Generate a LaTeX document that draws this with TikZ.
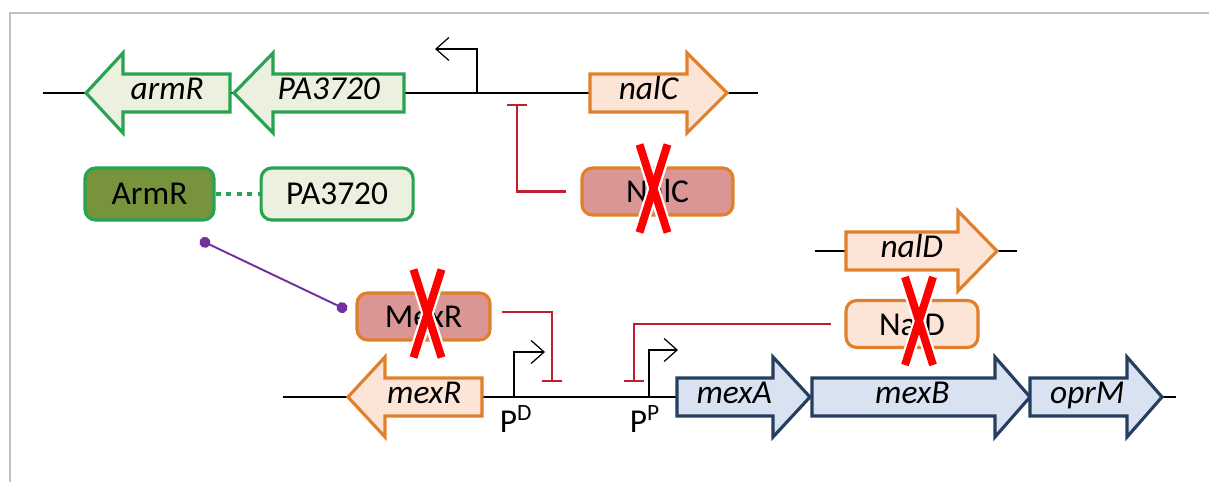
\documentclass[tikz,border=0pt]{standalone}
\usepackage{fontspec}
\setmainfont{Carlito}
\usetikzlibrary{arrows.meta, positioning, calc}
\definecolor{gngreen}{HTML}{27A352}
\definecolor{gnlight}{HTML}{EBF1DE}
\definecolor{gnolive}{HTML}{77933C}
\definecolor{gnorange}{HTML}{E07F2C}
\definecolor{gnpeach}{HTML}{FCE4D6}
\definecolor{gnpink}{HTML}{D99694}
\definecolor{gnnavy}{HTML}{243F60}
\definecolor{gnblue}{HTML}{D9E2F0}
\definecolor{gnred}{HTML}{BE1E2D}
\definecolor{gnpurple}{HTML}{7030A0}

% gene arrow: name, style, tail x, head base x, tip x, y, label
\newcommand{\gene}[7]{%
  \draw[#2] (#3,#6-19) -- (#4,#6-19) -- (#4,#6-40) -- (#5,#6)
    -- (#4,#6+40) -- (#4,#6+19) -- (#3,#6+19) -- cycle;
  \node[genetext] (#1) at ({((#5+#4)/2+#3)/2},#6) {#7};
}
% red cross over a protein that is knocked out
\newcommand{\knockout}[2]{%
  \draw[xhalo] ($(#1.center)+(#2-14,-47)$) -- ($(#1.center)+(#2+14,41)$);
  \draw[xhalo] ($(#1.center)+(#2+14,-47)$) -- ($(#1.center)+(#2-14,41)$);
  \draw[xmark] ($(#1.center)+(#2-14,-47)$) -- ($(#1.center)+(#2+14,41)$);
  \draw[xmark] ($(#1.center)+(#2+14,-47)$) -- ($(#1.center)+(#2-14,41)$);
}

\begin{document}
\begin{tikzpicture}[x=0.02cm, y=-0.02cm,
  frame/.style={draw=black!25, line width=1pt},
  dna/.style={black, line width=1.2pt},
  genegreen/.style={draw=gngreen, fill=gnlight, line width=1.8pt, line join=miter},
  geneorange/.style={draw=gnorange, fill=gnpeach, line width=1.8pt, line join=miter},
  geneblue/.style={draw=gnnavy, fill=gnblue, line width=1.8pt, line join=miter},
  genetext/.style={font=\fontsize{19}{21}\selectfont\itshape, inner sep=0pt,
    text height=1.5ex, text depth=0pt},
  prot/.style={rectangle, rounded corners=6pt, line width=1.8pt, inner sep=0pt,
    minimum height=0.94cm, font=\fontsize{19}{21}\selectfont},
  prom/.style={black, line width=0.7pt, -{Straight Barb[length=2.6mm, width=4.6mm]}},
  repress/.style={gnred, line width=1.2pt, -{Bar[width=4mm]}},
  link/.style={gngreen, line width=2.4pt, dash pattern=on 3pt off 3pt},
  bind/.style={gnpurple, line width=1.1pt, {Circle[length=2.2mm]}-{Circle[length=2.2mm]}},
  xhalo/.style={white, line width=7pt},
  xmark/.style={red, line width=4.5pt},
  plabel/.style={font=\fontsize{19}{21}\selectfont, inner sep=0pt, anchor=base},
]
  \useasboundingbox (0,0) rectangle (1209,482);
  \draw[frame] (10,482) -- (10,13) -- (1209,13);

  % DNA backbones
  \coordinate (topL) at (43,93);
  \coordinate (topR) at (758,93);
  \coordinate (botL) at (283,397);
  \coordinate (botR) at (1176,397);
  \coordinate (ndL) at (815,251);
  \coordinate (ndR) at (1017,251);
  \draw[dna] (topL) -- (topR);
  \draw[dna] (botL) -- (botR);
  \draw[dna] (ndL) -- (ndR);

  % genes
  \gene{armRg}{genegreen}{230}{123}{86}{93}{armR}
  \gene{pa3720g}{genegreen}{404}{273}{234}{93}{PA3720}
  \gene{nalCg}{geneorange}{590}{687}{727}{93}{nalC}
  \gene{nalDg}{geneorange}{846}{958}{997}{251}{nalD}
  \gene{mexRg}{geneorange}{482}{385}{348}{397}{mexR}
  \gene{mexAg}{geneblue}{677}{773}{810}{397}{mexA}
  \gene{mexBg}{geneblue}{812}{995}{1030}{397}{mexB}
  \gene{oprMg}{geneblue}{1030}{1127}{1162}{397}{oprM}

  % promoters
  \coordinate (prNalC) at (477,93);
  \coordinate (prNalCend) at (435,49);
  \coordinate (prD) at (514,397);
  \coordinate (prDend) at (545,352);
  \coordinate (prP) at (649,397);
  \coordinate (prPend) at (678,350);
  \draw[prom] (prNalC) |- (prNalCend);
  \draw[prom] (prD) |- (prDend);
  \draw[prom] (prP) |- (prPend);
  \node[plabel] (pD) at (516,432) {P\textsuperscript{D}};
  \node[plabel] (pP) at (645,432) {P\textsuperscript{P}};

  % proteins
  \node[prot, draw=gngreen, fill=gnolive, minimum width=2.58cm, minimum height=1.04cm]
    (armRp) at (149.5,194) {ArmR};
  \node[prot, draw=gngreen, fill=gnlight, minimum width=3.04cm, minimum height=1.04cm,
    right=0.88cm of armRp] (pa3720p) {PA3720};
  \node[prot, draw=gnorange, fill=gnpink, minimum width=3.02cm] (nalCp) at (657.5,191.5) {NalC};
  \node[prot, draw=gnorange, fill=gnpink, minimum width=2.66cm] (mexRp) at (423.5,316.5) {MexR};
  \node[prot, draw=gnorange, fill=gnpeach, minimum width=2.64cm] (nalDp) at (912,324) {NalD};

  \draw[link] (armRp) -- (pa3720p);
  \coordinate (bindA) at (200,240);
  \coordinate (bindB) at (347,310);
  \draw[bind] (bindA) -- (bindB);

  % repression
  \coordinate (tbarC) at (517,104);
  \coordinate (tbarD) at (552,382);
  \coordinate (tbarP) at (634,382);
  \draw[repress] ([xshift=-0.28cm]nalCp.west) -| (tbarC);
  \draw[repress] ([xshift=0.2cm, yshift=0.09cm]mexRp.east) -| (tbarD);
  \draw[repress] ([xshift=-0.26cm]nalDp.west) -| (tbarP);

  \knockout{nalCp}{-4}
  \knockout{mexRp}{4}
  \knockout{nalDp}{7}
\end{tikzpicture}
\end{document}
